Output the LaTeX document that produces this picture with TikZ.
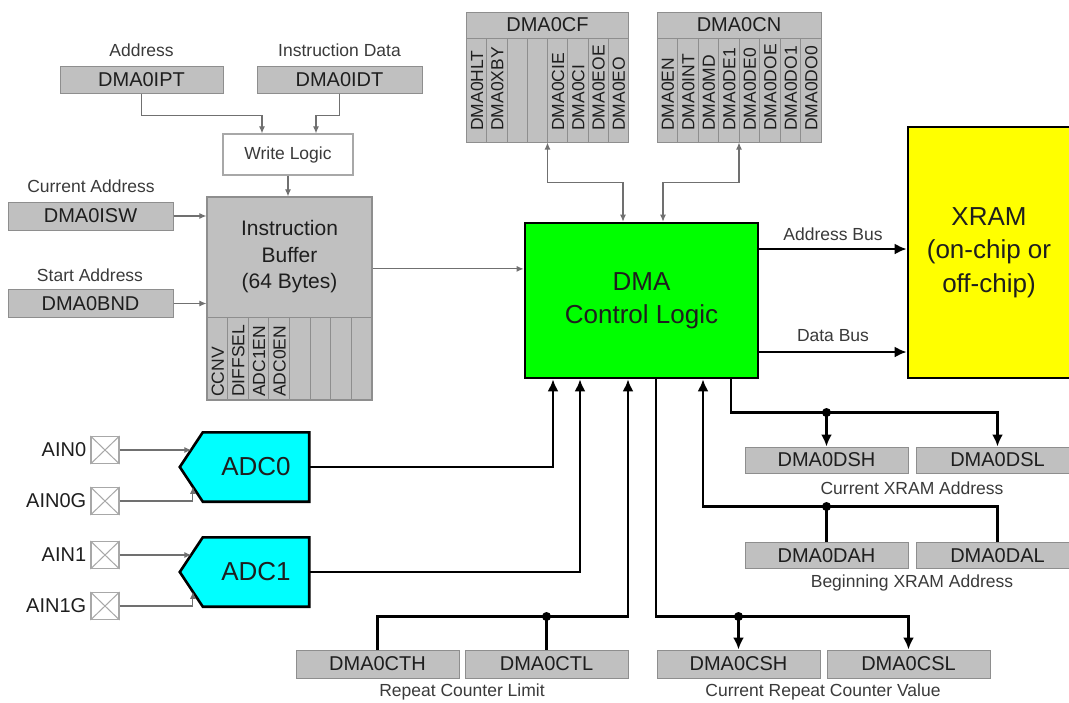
\documentclass[tikz,border=0pt]{standalone}
\usepackage{fontspec}
\setmainfont{Liberation Sans}
\usetikzlibrary{arrows.meta,calc,backgrounds}

\definecolor{regfill}{HTML}{C0C0C0}
\definecolor{regline}{HTML}{8E8E8E}
\definecolor{regtxt}{HTML}{1E1E1E}
\definecolor{lbltxt}{HTML}{3A3A3A}
\definecolor{thinline}{HTML}{707070}
\definecolor{pingray}{HTML}{A8A8A8}
\definecolor{dmagreen}{HTML}{00FF00}
\definecolor{adccyan}{HTML}{00FFFF}
\definecolor{xramyellow}{HTML}{FFFF00}

\newcommand{\fReg}{\fontsize{20}{24}\selectfont}
\newcommand{\fLbl}{\fontsize{17.5}{21}\selectfont}
\newcommand{\fCol}{\fontsize{17.5}{21}\selectfont}
\newcommand{\fBig}{\fontsize{26}{33.5}\selectfont}
\newcommand{\fMid}{\fontsize{21}{26.5}\selectfont}
\newcommand{\fPin}{\fontsize{20}{24}\selectfont}

\begin{document}
\begin{tikzpicture}[x=1pt,y=-1pt,
  reg/.style={draw=regline, fill=regfill, line width=1pt, minimum width=163pt, minimum height=27pt, inner sep=0pt, font=\fReg, text=regtxt},
  lbl/.style={font=\fLbl, text=lbltxt, inner sep=0pt},
  collbl/.style={font=\fCol, text=regtxt, rotate=90, anchor=west, inner sep=0pt, text height=13pt, text depth=0pt},
  gridline/.style={draw=regline, line width=1pt},
  thinarrow/.style={draw=thinline, line width=1.1pt, -{Latex[length=7pt,width=6pt]}},
  thinboth/.style={draw=thinline, line width=1.1pt, {Latex[length=7pt,width=6pt]}-{Latex[length=7pt,width=6pt]}},
  busline/.style={draw=black, line width=2.6pt},
  busarrow/.style={busline, -{Latex[length=12pt,width=11pt]}},
  pinbox/.style={draw=pingray, line width=1.2pt, fill=white, minimum width=28pt, minimum height=27pt, inner sep=0pt},
  pinlbl/.style={font=\fPin, text=regtxt, anchor=east, inner sep=0pt},
  adcbox/.style={minimum width=106pt, minimum height=69pt, inner sep=0pt, font=\fBig, text=regtxt},
  junc/.style={circle, fill=black, inner sep=0pt, minimum size=9pt}
]
\useasboundingbox (0,0) rectangle (1069,702);

% ---------- top-left registers ----------
\node[lbl] (tAddr) at (141.5,50) {Address};
\node[lbl] (tInst) at (339.5,50) {Instruction Data};
\node[reg] (ipt) at (141.5,79.5) {DMA0IPT};
\node[reg, minimum width=165pt] (idt) at (339.5,79.5) {DMA0IDT};
\node[draw=pingray, line width=1.2pt, fill=white, minimum width=130pt, minimum height=41pt, font=\fLbl, text=lbltxt] (wl) at (288,154.5) {Write Logic};

\node[lbl] (tCur) at (91,186) {Current Address};
\node[reg, minimum width=165pt, minimum height=28pt] (isw) at (90.5,216) {DMA0ISW};
\node[lbl] (tStart) at (90,275) {Start Address};
\node[reg, minimum width=165pt, minimum height=28pt] (bnd) at (90.5,303.5) {DMA0BND};

% ---------- instruction buffer ----------
\node[draw=regline, line width=1.2pt, fill=regfill, minimum width=165pt, minimum height=203pt, inner sep=0pt] (ibuf) at (289.5,298.5) {};
\node[font=\fMid, text=regtxt, align=center, inner sep=0pt] (ibtxt) at (289.5,257) {Instruction\\Buffer\\(64 Bytes)};
\draw[gridline] (207,317) -- (372,317);
\foreach \i in {1,...,7} \draw[gridline] ({207+20.625*\i},317) -- ({207+20.625*\i},400);
\foreach \t [count=\i from 0] in {CCNV,DIFFSEL,ADC1EN,ADC0EN}
  \node[collbl] (ibc\i) at ({207+20.625*(\i+0.5)},397) {\t};

% ---------- DMA0CF ----------
\node[reg, minimum width=162pt, minimum height=26pt] (cfh) at (547.5,25) {DMA0CF};
\node[reg, minimum width=162pt, minimum height=104pt] (cfb) at (547.5,90) {};
\foreach \i in {1,...,7} \draw[gridline] ({466.5+20.25*\i},38) -- ({466.5+20.25*\i},142);
\foreach \t [count=\i from 0] in {DMA0HLT,DMA0XBY,,,DMA0CIE,DMA0CI,DMA0EOE,DMA0EO}
  \node[collbl] (cfc\i) at ({466.5+20.25*(\i+0.5)},131) {\t};

% ---------- DMA0CN ----------
\node[reg, minimum width=164pt, minimum height=26pt] (cnh) at (739,25) {DMA0CN};
\node[reg, minimum width=164pt, minimum height=104pt] (cnb) at (739,90) {};
\foreach \i in {1,...,7} \draw[gridline] ({657+20.5*\i},38) -- ({657+20.5*\i},142);
\foreach \t [count=\i from 0] in {DMA0EN,DMA0INT,DMA0MD,DMA0DE1,DMA0DE0,DMA0DOE,DMA0DO1,DMA0DO0}
  \node[collbl] (cnc\i) at ({657+20.5*(\i+0.5)},131) {\t};

% ---------- main blocks ----------
\node[draw=black, line width=2.6pt, fill=dmagreen, minimum width=233pt, minimum height=155pt, align=center, font=\fBig, text=regtxt] (dma) at (641.5,300.5) {DMA\\Control Logic};
\node[draw=black, line width=2.6pt, fill=xramyellow, minimum width=162pt, minimum height=251pt, align=center, font=\fBig, text=regtxt] (xram) at (989,252.5) {XRAM\\(on-chip or\\off-chip)};
\node[lbl] (tAB) at (833,234) {Address Bus};
\node[lbl] (tDB) at (833,336) {Data Bus};

% ---------- ADCs ----------
\node[adcbox] (adc0) at (256,467) {ADC0};
\node[adcbox] (adc1) at (256,572) {ADC1};
\coordinate (adc0tip) at ($(adc0.west)+(-23,0)$);
\coordinate (adc1tip) at ($(adc1.west)+(-23,0)$);
\begin{scope}[on background layer]
\draw[line width=2.6pt, fill=adccyan, line join=miter] (adc0.north west) -- (adc0.north east) -- (adc0.south east) -- (adc0.south west) -- (adc0tip) -- cycle;
\draw[line width=2.6pt, fill=adccyan, line join=miter] (adc1.north west) -- (adc1.north east) -- (adc1.south east) -- (adc1.south west) -- (adc1tip) -- cycle;
\end{scope}

% ---------- analog pins ----------
\node[pinbox] (p0) at (105,450) {};
\node[pinbox] (p0g) at (105,501) {};
\node[pinbox] (p1) at (105,555) {};
\node[pinbox] (p1g) at (105,606) {};
\foreach \p in {p0,p0g,p1,p1g}
  \draw[pingray, line width=1pt] (\p.north west) -- (\p.south east) (\p.north east) -- (\p.south west);
\node[pinlbl] (l0) at ([xshift=-4pt]p0.west) {AIN0};
\node[pinlbl] (l0g) at ([xshift=-4pt]p0g.west) {AIN0G};
\node[pinlbl] (l1) at ([xshift=-4pt]p1.west) {AIN1};
\node[pinlbl] (l1g) at ([xshift=-4pt]p1g.west) {AIN1G};

\coordinate (a0up) at ($(adc0tip)!0.5!(adc0.north west)$);
\coordinate (a0lo) at ($(adc0tip)!0.57!(adc0.south west)$);
\coordinate (a1up) at ($(adc1tip)!0.5!(adc1.north west)$);
\coordinate (a1lo) at ($(adc1tip)!0.57!(adc1.south west)$);
\draw[thinarrow] (p0.east) -- (p0.east -| a0up);
\draw[thinarrow] (p0g.east) -| (a0lo);
\draw[thinarrow] (p1.east) -- (p1.east -| a1up);
\draw[thinarrow] (p1g.east) -| (a1lo);

% ---------- lower registers ----------
\node[reg, minimum height=26pt] (dsh) at (826.5,460) {DMA0DSH};
\node[reg, minimum height=26pt] (dsl) at (997.5,460) {DMA0DSL};
\node[lbl] (tCX) at (912,488) {Current XRAM Address};
\node[reg, minimum height=26pt] (dah) at (826.5,555.5) {DMA0DAH};
\node[reg, minimum height=26pt] (dal) at (997.5,555.5) {DMA0DAL};
\node[lbl] (tBX) at (912,583) {Beginning XRAM Address};
\node[reg, minimum height=28pt] (cth) at (377.5,664) {DMA0CTH};
\node[reg, minimum height=28pt] (ctl) at (546.5,664) {DMA0CTL};
\node[lbl] (tRL) at (462,692) {Repeat Counter Limit};
\node[reg, minimum height=28pt] (csh) at (738.5,664) {DMA0CSH};
\node[reg, minimum height=28pt] (csl) at (908.5,664) {DMA0CSL};
\node[lbl] (tRV) at (823,692) {Current Repeat Counter Value};

% ---------- thin connectors ----------
\draw[thinarrow] (ipt.south) -- ++(0,22) -| ([xshift=-26pt]wl.north);
\draw[thinarrow] (idt.south) -- ++(0,22) -| ([xshift=28pt]wl.north);
\draw[thinarrow] (wl.south) -- (wl.south |- ibuf.north);
\draw[thinarrow] (isw.east) -- (isw.east -| ibuf.west);
\draw[thinarrow] (bnd.east) -- (bnd.east -| ibuf.west);
\coordinate (ibout) at ($(ibuf.north east)!0.355!(ibuf.south east)$);
\draw[thinarrow] (ibout) -- (ibout -| dma.west);
\draw[thinboth] (cfb.south) -- ++(0,40) -| ([xshift=-18.5pt]dma.north);
\draw[thinboth] (cnb.south) -- ++(0,40) -| ([xshift=21.5pt]dma.north);

% ---------- buses ----------
\coordinate (abS) at ([yshift=51.5pt]dma.east);
\coordinate (dbS) at ([yshift=-51.5pt]dma.east);
\draw[busarrow] (abS) -- (abS -| xram.west);
\draw[busarrow] (dbS) -- (dbS -| xram.west);

\draw[busarrow] (adc0.east) -| ([xshift=-88.5pt]dma.south);
\draw[busarrow] (adc1.east) -| ([xshift=-61.5pt]dma.south);

\coordinate (ctj) at ($(ctl.north)+(0,-33)$);
\draw[busarrow] (cth.north) |- (ctj) -| ([xshift=-13.5pt]dma.south);
\draw[busline] (ctl.north) -- (ctj);
\node[junc] (jct) at (ctj) {};

\coordinate (csj) at ($(csh.north)+(0,-33)$);
\draw[busarrow] ([xshift=14.5pt]dma.south) |- (csj) -| (csl.north);
\draw[busarrow] (csj) -- (csh.north);
\node[junc] (jcs) at (csj) {};

\coordinate (dsj) at ($(dsh.north)+(0,-34)$);
\draw[busarrow] ([xshift=89.5pt]dma.south) |- (dsj) -| (dsl.north);
\draw[busarrow] (dsj) -- (dsh.north);
\node[junc] (jds) at (dsj) {};

\coordinate (daj) at ($(dah.north)+(0,-35.5)$);
\draw[busarrow] (dal.north) |- (daj) -| ([xshift=61.5pt]dma.south);
\draw[busline] (dah.north) -- (daj);
\node[junc] (jda) at (daj) {};
\end{tikzpicture}
\end{document}
